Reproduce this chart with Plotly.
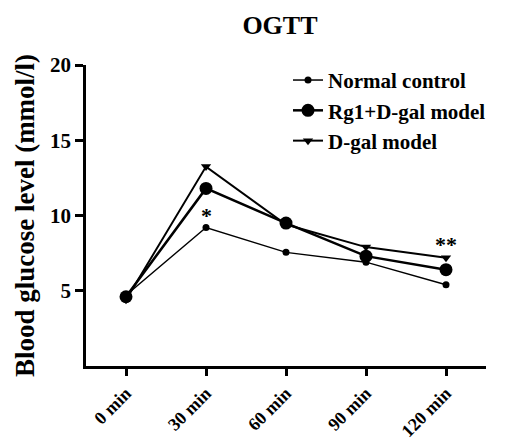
import plotly.graph_objects as go

categories = ["0 min", "30 min", "60 min", "90 min", "120 min"]
normal_control = [4.7, 9.2, 7.55, 6.9, 5.4]
rg1_dgal = [4.6, 11.8, 9.5, 7.3, 6.4]
dgal_model = [4.4, 13.25, 9.4, 7.9, 7.2]
y_ticks = [5, 10, 15, 20]

FONT = "Liberation Serif"

fig = go.Figure()
fig.add_trace(go.Scatter(x=categories, y=normal_control, name="Normal control",
                         mode="lines+markers", line=dict(color="black", width=1.5),
                         marker=dict(symbol="circle", size=7, color="black")))
fig.add_trace(go.Scatter(x=categories, y=rg1_dgal, name="Rg1+D-gal model",
                         mode="lines+markers", line=dict(color="black", width=2.5),
                         marker=dict(symbol="circle", size=13, color="black")))
fig.add_trace(go.Scatter(x=categories, y=dgal_model, name="D-gal model",
                         mode="lines+markers", line=dict(color="black", width=2),
                         marker=dict(symbol="triangle-down", size=9, color="black")))

fig.add_annotation(x=categories[1], y=normal_control[1], text="*", showarrow=False,
                   yshift=12, font=dict(family=FONT, size=22, color="black", weight="bold"))
fig.add_annotation(x=categories[4], y=dgal_model[4], text="**", showarrow=False,
                   yshift=13, font=dict(family=FONT, size=22, color="black", weight="bold"))

fig.update_layout(
    width=499, height=439,
    margin=dict(l=78, r=21, t=57, b=81),
    paper_bgcolor="white", plot_bgcolor="white",
    font=dict(family=FONT, color="black"),
    title=dict(text="OGTT", x=0.545, xanchor="center", y=0.961, yanchor="middle",
               font=dict(family=FONT, size=26, color="black", weight="bold")),
    showlegend=True,
    legend=dict(x=0.505, y=1.017, xanchor="left", yanchor="top",
                font=dict(family=FONT, size=21, color="black", weight="bold"),
                bgcolor="rgba(0,0,0,0)", tracegroupgap=0, itemwidth=30),
    xaxis=dict(type="category", range=[-0.5, 4.5], showline=True, linecolor="black", linewidth=2.5,
               ticks="outside", ticklen=7, tickwidth=2.5, tickcolor="black", tickangle=-45,
               tickfont=dict(family=FONT, size=18, color="black", weight="bold"),
               showgrid=False, zeroline=False, automargin=False),
    yaxis=dict(range=[0, 20], tickvals=y_ticks, showline=True, linecolor="black", linewidth=2.5,
               ticks="outside", ticklen=8, tickwidth=2.5, tickcolor="black",
               tickfont=dict(family=FONT, size=21, color="black", weight="bold"),
               showgrid=False, zeroline=False, automargin=False,
               title=dict(text="Blood glucose level (mmol/l)", standoff=8,
                          font=dict(family=FONT, size=27, color="black", weight="bold"))),
)

fig.write_html("out.html")
